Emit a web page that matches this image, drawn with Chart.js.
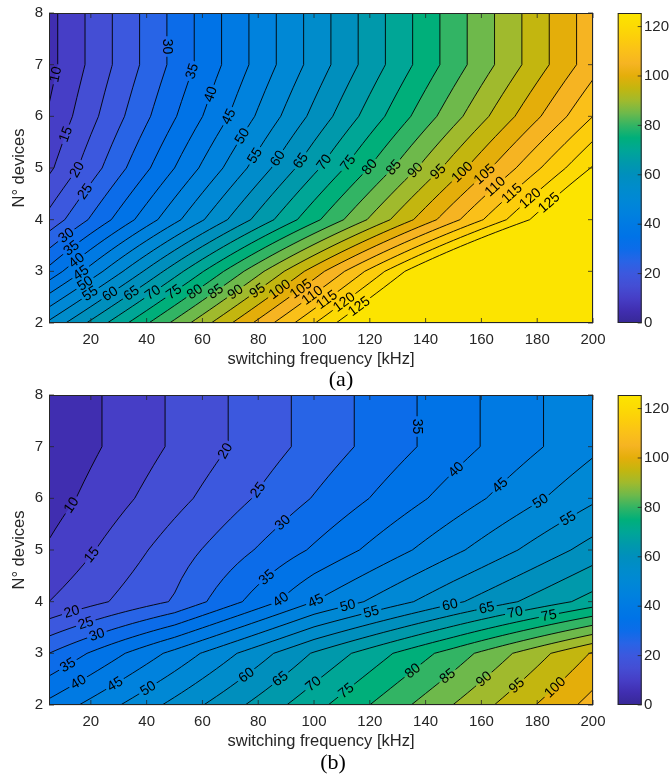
<!DOCTYPE html>
<html>
<head>
<meta charset="utf-8">
<script src="https://cdn.jsdelivr.net/npm/chart.js@4.4.1/dist/chart.umd.min.js"></script>
<style>
  html, body { margin: 0; padding: 0; background: #ffffff; }
  body { width: 672px; height: 774px; position: relative; overflow: hidden; }
  canvas { position: absolute; left: 0; }
  #ca { top: 0; }
  #cb { top: 382px; }
  .tag { position: absolute; font-family: "Liberation Serif", "Times New Roman", serif; font-size: 22px; color: #000;
         transform: translate(-50%, -50%); white-space: nowrap; line-height: 1; }
</style>
</head>
<body>
<canvas id="ca" width="672" height="372" style="width:672px;height:372px"></canvas>
<canvas id="cb" width="672" height="372" style="width:672px;height:372px"></canvas>
<div class="tag" style="left:341px;top:379px">(a)</div>
<div class="tag" style="left:333px;top:762px">(b)</div>
<script>
// ---------------- data ----------------
const freqKHz   = [5, 50, 100, 150, 200];          // switching frequency grid [kHz]
const nDevices  = [2, 3, 4, 5, 6, 7, 8];           // number of devices grid
const contourLevels = [5,10,15,20,25,30,35,40,45,50,55,60,65,70,75,80,85,90,95,100,105,110,115,120,125];
const xTickValues = [20, 40, 60, 80, 100, 120, 140, 160, 180, 200];
const yTickValues = [2, 3, 4, 5, 6, 7, 8];
const colorbarTicks = [0, 20, 40, 60, 80, 100, 120];
const colorbarMax = 125.5;

// panel (a): value at each frequency of freqKHz, one array per N
const a_N2 = [56.0, 86.2, 119.7, 153.2, 186.7];
const a_N3 = [36.6, 67.8, 102.4, 137.1, 171.7];
const a_N4 = [21.6, 48.6, 78.6, 108.6, 138.6];
const a_N5 = [14.0, 40.0, 68.8, 97.4, 125.5];
const a_N6 = [10.5, 34.6, 61.4, 88.2, 115.0];
const a_N7 = [8.4, 31.4, 56.9, 82.5, 108.0];
const a_N8 = [8.4, 31.4, 56.9, 82.5, 108.0];

// panel (b)
const b_N2 = [41.4, 56.5, 73.3, 90.1, 106.9];
const b_N3 = [30.0, 46.5, 65.5, 82.3, 100.5];
const b_N4 = [15.0, 25.5, 45.0, 59.0, 72.0];
const b_N5 = [10.6, 22.5, 35.7, 48.9, 62.1];
const b_N6 = [7.7, 18.4, 30.3, 42.2, 54.1];
const b_N7 = [5.8, 15.75, 26.8, 37.9, 48.9];
const b_N8 = [5.8, 15.75, 26.8, 37.9, 48.9];

// contour label anchors (level, frequency, N)
const labelsA_level = [10,15,20,25,30,35,40,45,50,55,60,65,70,75,80,85,90,95,100,105,110,115,120,125,
                       30,35,40,45,50,55,60,65,70,75,80,85,90,95,100,105,110,115,120,125];
const labelsA_freq  = [7.6,11.2,15,18.6,47.1,56.4,63.2,69.2,74.5,79.6,87.7,96,105,112.2,121.1,129.5,137.3,145,154,162.3,165.9,171.9,177.9,183.9,
                       11.8,13,14.2,15.4,17,19.3,26.7,34.5,42.3,50,57.2,64.7,72.1,79.9,87.7,95.4,99.6,105,109.2,115.2];
const labelsA_n     = [6.81,5.65,4.97,4.52,7.35,6.87,6.42,6.0,5.61,5.21,5.16,5.11,5.06,5.1,4.97,4.97,4.9,4.9,4.87,4.81,4.58,4.45,4.39,4.35,
                       3.65,3.45,3.26,3.06,2.84,2.61,2.58,2.58,2.58,2.58,2.61,2.61,2.58,2.61,2.65,2.65,2.52,2.42,2.52,2.39];

const labelsB_level = [10,15,20,25,30,35,40,45,20,25,30,35,40,45,50,60,65,70,
                       35,40,45,50,55,50,55,60,65,70,75,75,80,85,90,95,100];
const labelsB_freq  = [13,19.6,68.6,79.9,88.9,82.9,87.1,100.8,13,17.8,22,11.8,15.4,28.5,40.5,75.7,87.7,99.6,
                       136.9,151,166.5,180.9,191,112.2,120.5,148.6,161.8,171.9,183.9,112.2,135.5,148,160.6,173.1,186.2];
const labelsB_n     = [5.87,4.94,6.9,6.16,5.52,4.48,4.1,4.0,3.84,3.65,3.39,2.77,2.45,2.42,2.32,2.58,2.52,2.42,
                       7.39,6.55,6.26,5.97,5.61,3.9,3.81,3.97,3.9,3.84,3.81,2.23,2.65,2.55,2.52,2.35,2.35];

// ---------------- colormap (style) ----------------
const CMAP_STOPS = [
  [0, [55, 40, 150]], [5, [64, 46, 176]], [10, [70, 62, 198]], [15, [68, 78, 212]], [20, [60, 88, 222]],
  [25, [40, 100, 230]], [30, [12, 108, 233]], [35, [0, 115, 231]], [40, [0, 122, 227]], [45, [0, 130, 221]],
  [50, [0, 136, 213]], [55, [0, 140, 203]], [60, [0, 143, 189]], [65, [0, 153, 171]], [70, [0, 166, 150]],
  [75, [0, 175, 122]], [80, [50, 180, 100]], [85, [110, 185, 75]], [90, [160, 186, 45]], [95, [195, 182, 15]],
  [100, [228, 174, 10]], [105, [246, 180, 34]], [110, [250, 192, 25]], [115, [252, 205, 12]], [120, [252, 218, 4]],
  [125, [252, 228, 0]], [125.5, [252, 230, 0]]
];
function cmapRGB(v) {
  if (v <= CMAP_STOPS[0][0]) return CMAP_STOPS[0][1];
  for (let i = 1; i < CMAP_STOPS.length; i++) {
    if (v <= CMAP_STOPS[i][0]) {
      const [v0, c0] = CMAP_STOPS[i - 1], [v1, c1] = CMAP_STOPS[i];
      const t = (v - v0) / (v1 - v0);
      return c0.map((c, k) => Math.round(c + t * (c1[k] - c)));
    }
  }
  return CMAP_STOPS[CMAP_STOPS.length - 1][1];
}
function cmap(v) { const c = cmapRGB(v); return `rgb(${c[0]},${c[1]},${c[2]})`; }

// ---------------- contour helpers ----------------
function interp(xs, ys, x) {
  if (x <= xs[0]) return ys[0];
  for (let i = 1; i < xs.length; i++) {
    if (x <= xs[i]) { const t = (x - xs[i - 1]) / (xs[i] - xs[i - 1]); return ys[i - 1] + t * (ys[i] - ys[i - 1]); }
  }
  return ys[ys.length - 1];
}
function makeSurface(rows) {
  const fs = [];
  for (let f = freqKHz[0]; f <= freqKHz[freqKHz.length - 1] + 1e-9; f += 2.5) fs.push(f);
  const z = rows.map(r => fs.map(f => interp(freqKHz, r, f)));
  return { fs, ns: nDevices, z };
}
function cellInfo(S, i, j) {
  const P = [[S.fs[i], S.ns[j]], [S.fs[i + 1], S.ns[j]], [S.fs[i + 1], S.ns[j + 1]], [S.fs[i], S.ns[j + 1]]];
  const Z = [S.z[j][i], S.z[j][i + 1], S.z[j + 1][i + 1], S.z[j + 1][i]];
  const K = [`h${i}_${j}`, `v${i + 1}_${j}`, `h${i}_${j + 1}`, `v${i}_${j}`];
  return { P, Z, K };
}
function contourSegments(S, L) {
  const segs = [];
  for (let j = 0; j < S.ns.length - 1; j++) {
    for (let i = 0; i < S.fs.length - 1; i++) {
      const { P, Z, K } = cellInfo(S, i, j);
      const cr = [];
      for (let e = 0; e < 4; e++) {
        const a = e, b = (e + 1) % 4;
        if ((Z[a] >= L) !== (Z[b] >= L)) {
          const t = (L - Z[a]) / (Z[b] - Z[a]);
          cr.push({ key: K[e], x: P[a][0] + t * (P[b][0] - P[a][0]), y: P[a][1] + t * (P[b][1] - P[a][1]) });
        }
      }
      if (cr.length === 2) segs.push([cr[0], cr[1]]);
      else if (cr.length === 4) {
        const c = (Z[0] + Z[1] + Z[2] + Z[3]) / 4;
        if ((c >= L) === (Z[0] >= L)) { segs.push([cr[0], cr[1]]); segs.push([cr[2], cr[3]]); }
        else { segs.push([cr[3], cr[0]]); segs.push([cr[1], cr[2]]); }
      }
    }
  }
  return segs;
}
function chainSegments(segs) {
  const byKey = new Map();
  segs.forEach((s, idx) => s.forEach(p => { if (!byKey.has(p.key)) byKey.set(p.key, []); byKey.get(p.key).push(idx); }));
  const used = new Array(segs.length).fill(false);
  const lines = [];
  for (let s0 = 0; s0 < segs.length; s0++) {
    if (used[s0]) continue;
    used[s0] = true;
    const line = [segs[s0][0], segs[s0][1]];
    for (const atEnd of [true, false]) {
      while (true) {
        const endP = atEnd ? line[line.length - 1] : line[0];
        const cands = (byKey.get(endP.key) || []).filter(k => !used[k]);
        if (!cands.length) break;
        const k = cands[0]; used[k] = true;
        const s = segs[k];
        const other = s[0].key === endP.key ? s[1] : s[0];
        if (atEnd) line.push(other); else line.unshift(other);
      }
    }
    lines.push(line);
  }
  return lines;
}

// ---------------- drawing plugin ----------------
const STATE = new Map();
const LABEL_FONT = '14px "Liberation Sans", Arial, sans-serif';
const AXIS_COLOR = '#262626';

function pointAt(P, cum, s) {
  if (s <= 0) return P[0];
  for (let i = 1; i < P.length; i++) {
    if (cum[i] >= s) {
      const t = (s - cum[i - 1]) / Math.max(1e-9, cum[i] - cum[i - 1]);
      return [P[i - 1][0] + t * (P[i][0] - P[i - 1][0]), P[i - 1][1] + t * (P[i][1] - P[i - 1][1])];
    }
  }
  return P[P.length - 1];
}

function placeLabels(chart, st) {
  const xs = chart.scales.x, ys = chart.scales.y, ctx = chart.ctx;
  ctx.save(); ctx.font = LABEL_FONT;
  const out = [];
  st.labelLevel.forEach((L, k) => {
    const hx = xs.getPixelForValue(st.labelFreq[k]), hy = ys.getPixelForValue(st.labelN[k]);
    let best = null;
    (st.linesByLevel.get(L) || []).forEach(line => {
      const P = line.map(p => [xs.getPixelForValue(p.x), ys.getPixelForValue(p.y)]);
      const cum = [0];
      for (let i = 1; i < P.length; i++) cum.push(cum[i - 1] + Math.hypot(P[i][0] - P[i - 1][0], P[i][1] - P[i - 1][1]));
      for (let i = 0; i < P.length - 1; i++) {
        const [x0, y0] = P[i], [x1, y1] = P[i + 1];
        const dx = x1 - x0, dy = y1 - y0, len2 = dx * dx + dy * dy;
        let t = len2 > 0 ? ((hx - x0) * dx + (hy - y0) * dy) / len2 : 0;
        t = Math.max(0, Math.min(1, t));
        const px = x0 + t * dx, py = y0 + t * dy, d = Math.hypot(px - hx, py - hy);
        if (!best || d < best.d) best = { d, px, py, P, cum, s: cum[i] + t * Math.sqrt(len2) };
      }
    });
    if (!best) return;
    const a = pointAt(best.P, best.cum, best.s - 8), b = pointAt(best.P, best.cum, best.s + 8);
    let ang = Math.atan2(b[1] - a[1], b[0] - a[0]);
    if (ang > Math.PI / 2 + 1e-6) ang -= Math.PI;
    if (ang <= -Math.PI / 2 + 1e-6) ang += Math.PI;
    const text = String(L);
    out.push({ x: best.px, y: best.py, ang, text, w: ctx.measureText(text).width });
  });
  ctx.restore();
  return out;
}

function drawFills(chart, S) {
  const xs = chart.scales.x, ys = chart.scales.y, ctx = chart.ctx, ca = chart.chartArea;
  const X = S.fs.map(f => xs.getPixelForValue(f));
  const Y = S.ns.map(n => ys.getPixelForValue(n));
  ctx.save();
  ctx.beginPath(); ctx.rect(ca.left, ca.top, ca.right - ca.left, ca.bottom - ca.top); ctx.clip();
  ctx.fillStyle = cmap(contourLevels[0]);
  ctx.fillRect(ca.left, ca.top, ca.right - ca.left, ca.bottom - ca.top);
  for (let k = 1; k < contourLevels.length; k++) {
    const L = contourLevels[k];
    ctx.beginPath();
    let any = false;
    for (let j = 0; j < S.ns.length - 1; j++) {
      for (let i = 0; i < S.fs.length - 1; i++) {
        const Pp = [[X[i], Y[j]], [X[i + 1], Y[j]], [X[i + 1], Y[j + 1]], [X[i], Y[j + 1]]];
        const Z = [S.z[j][i], S.z[j][i + 1], S.z[j + 1][i + 1], S.z[j + 1][i]];
        const poly = [];
        for (let e = 0; e < 4; e++) {
          const a = e, b = (e + 1) % 4;
          if (Z[a] >= L) poly.push(Pp[a]);
          if ((Z[a] >= L) !== (Z[b] >= L)) {
            const t = (L - Z[a]) / (Z[b] - Z[a]);
            poly.push([Pp[a][0] + t * (Pp[b][0] - Pp[a][0]), Pp[a][1] + t * (Pp[b][1] - Pp[a][1])]);
          }
        }
        if (poly.length >= 3) {
          any = true;
          ctx.moveTo(poly[0][0], poly[0][1]);
          for (let q = 1; q < poly.length; q++) ctx.lineTo(poly[q][0], poly[q][1]);
          ctx.closePath();
        }
      }
    }
    if (any) { ctx.fillStyle = cmap(L); ctx.fill(); }
  }
  ctx.restore();
}

const contourPlugin = {
  id: 'contourfill',
  beforeDatasetsDraw(chart) {
    const st = STATE.get(chart.canvas.id);
    if (!st) return;
    drawFills(chart, st.S);
    st.placed = placeLabels(chart, st);
    const ctx = chart.ctx, ca = chart.chartArea;
    ctx.save();
    ctx.beginPath();
    ctx.rect(ca.left, ca.top, ca.right - ca.left, ca.bottom - ca.top);
    st.placed.forEach(lb => {
      const hw = lb.w / 2 + 2.5, hh = 8, c = Math.cos(lb.ang), s = Math.sin(lb.ang);
      const pts = [[-hw, -hh], [hw, -hh], [hw, hh], [-hw, hh]].map(([u, v]) => [lb.x + u * c - v * s, lb.y + u * s + v * c]);
      ctx.moveTo(pts[0][0], pts[0][1]);
      for (let q = 1; q < 4; q++) ctx.lineTo(pts[q][0], pts[q][1]);
      ctx.closePath();
    });
    ctx.clip('evenodd');
  },
  afterDatasetsDraw(chart) {
    const st = STATE.get(chart.canvas.id);
    if (!st) return;
    const ctx = chart.ctx;
    ctx.restore();
    ctx.save();
    ctx.font = LABEL_FONT; ctx.fillStyle = '#000'; ctx.textAlign = 'center'; ctx.textBaseline = 'middle';
    st.placed.forEach(lb => {
      ctx.save(); ctx.translate(lb.x, lb.y); ctx.rotate(lb.ang); ctx.fillText(lb.text, 0, 0.5); ctx.restore();
    });
    ctx.restore();
  },
  afterDraw(chart) {
    const ctx = chart.ctx, ca = chart.chartArea, xs = chart.scales.x, ys = chart.scales.y, cb = chart.scales.cb;
    ctx.save();
    ctx.strokeStyle = AXIS_COLOR; ctx.lineWidth = 1;
    ctx.strokeRect(ca.left + 0.5, ca.top + 0.5, ca.right - ca.left - 1, ca.bottom - ca.top - 1);
    ctx.lineWidth = 0.8; ctx.beginPath();
    xTickValues.forEach(v => { const p = xs.getPixelForValue(v);
      ctx.moveTo(p, ca.bottom); ctx.lineTo(p, ca.bottom - 5); ctx.moveTo(p, ca.top); ctx.lineTo(p, ca.top + 5); });
    yTickValues.forEach(v => { const p = ys.getPixelForValue(v);
      ctx.moveTo(ca.left, p); ctx.lineTo(ca.left + 5, p); ctx.moveTo(ca.right, p); ctx.lineTo(ca.right - 5, p); });
    ctx.stroke();
    // colorbar
    const x0 = ca.right + 24.7, w = 24;
    const yTop = cb.getPixelForValue(colorbarMax), yBot = cb.getPixelForValue(0);
    const g = ctx.createLinearGradient(0, yBot, 0, yTop);
    CMAP_STOPS.forEach(([v]) => g.addColorStop(Math.min(1, v / colorbarMax), cmap(v)));
    ctx.fillStyle = g;
    ctx.fillRect(x0, yTop, w, yBot - yTop);
    ctx.strokeStyle = AXIS_COLOR; ctx.lineWidth = 1;
    ctx.strokeRect(x0 + 0.5, yTop + 0.5, w - 1, yBot - yTop - 1);
    ctx.lineWidth = 0.8; ctx.beginPath();
    colorbarTicks.forEach(v => { const p = cb.getPixelForValue(v);
      ctx.moveTo(x0 + w, p); ctx.lineTo(x0 + w - 4, p); });
    ctx.stroke();
    ctx.restore();
  }
};

function buildChart(canvasId, rows, labelLevel, labelFreq, labelN) {
  const S = makeSurface(rows);
  const linesByLevel = new Map();
  const lineData = [];
  contourLevels.forEach(L => {
    const lines = chainSegments(contourSegments(S, L));
    linesByLevel.set(L, lines);
    lines.forEach(line => { line.forEach(p => lineData.push({ x: p.x, y: p.y })); lineData.push({ x: NaN, y: NaN }); });
  });
  STATE.set(canvasId, { S, linesByLevel, labelLevel, labelFreq, labelN });
  const tickFont = { family: '"Liberation Sans", Arial, sans-serif', size: 15 };
  const titleFont = { family: '"Liberation Sans", Arial, sans-serif', size: 16.5 };
  return new Chart(document.getElementById(canvasId), {
    type: 'scatter',
    data: { datasets: [{ data: lineData, showLine: true, borderColor: '#000', borderWidth: 0.9,
      borderDash: [1000, 0], pointRadius: 0, pointHoverRadius: 0, spanGaps: false, tension: 0 }] },
    options: {
      responsive: false, animation: false, devicePixelRatio: 1,
      layout: { padding: { top: 13, right: 0, bottom: 0, left: 0 } },
      plugins: { legend: { display: false }, tooltip: { enabled: false } },
      events: [],
      scales: {
        x: {
          type: 'linear', position: 'bottom', min: 5, max: 200, z: 1,
          afterBuildTicks: s => { s.ticks = xTickValues.map(v => ({ value: v })); },
          afterFit: s => { s.height = 49; },
          grid: { display: true, color: 'rgba(0,0,0,0.13)', lineWidth: 0.7, drawTicks: false },
          border: { display: false },
          ticks: { font: tickFont, color: AXIS_COLOR, padding: 8, maxRotation: 0, autoSkip: false },
          title: { display: true, text: 'switching frequency [kHz]', font: titleFont, color: AXIS_COLOR, padding: { top: 0, bottom: 3 } }
        },
        y: {
          type: 'linear', position: 'left', min: 2, max: 8, z: 1,
          afterBuildTicks: s => { s.ticks = yTickValues.map(v => ({ value: v })); },
          afterFit: s => { s.width = 49; },
          grid: { display: true, color: 'rgba(0,0,0,0.13)', lineWidth: 0.7, drawTicks: true, tickLength: 4, tickColor: 'rgba(0,0,0,0)' },
          border: { display: false },
          ticks: { font: tickFont, color: AXIS_COLOR, padding: 2, autoSkip: false },
          title: { display: true, text: 'N° devices', font: titleFont, color: AXIS_COLOR, padding: { top: 10, bottom: 0 } }
        },
        cb: {
          type: 'linear', position: 'right', min: 0, max: colorbarMax,
          afterBuildTicks: s => { s.ticks = colorbarTicks.map(v => ({ value: v })); },
          afterFit: s => { s.width = 79; },
          grid: { display: true, drawOnChartArea: false, drawTicks: true, tickLength: 49, tickColor: 'rgba(0,0,0,0)', color: 'rgba(0,0,0,0)' },
          border: { display: false },
          ticks: { font: tickFont, color: AXIS_COLOR, padding: 2, autoSkip: false }
        }
      }
    },
    plugins: [contourPlugin]
  });
}

buildChart('ca', [a_N2, a_N3, a_N4, a_N5, a_N6, a_N7, a_N8], labelsA_level, labelsA_freq, labelsA_n);
buildChart('cb', [b_N2, b_N3, b_N4, b_N5, b_N6, b_N7, b_N8], labelsB_level, labelsB_freq, labelsB_n);
</script>
</body>
</html>
